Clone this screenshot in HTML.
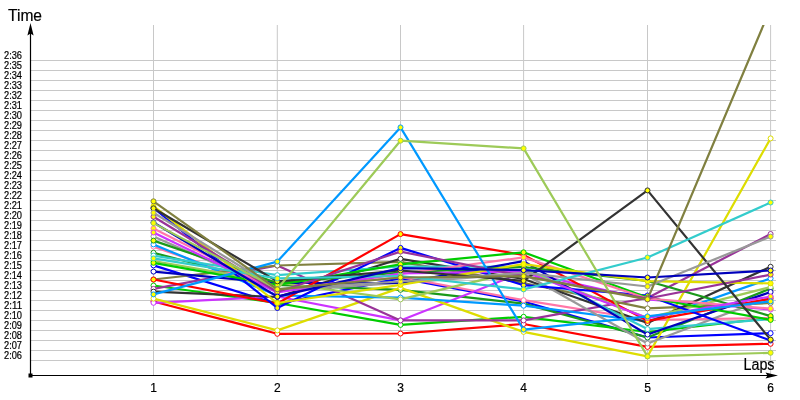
<!DOCTYPE html>
<html><head><meta charset="utf-8"><title>Lap chart</title>
<style>
html,body{margin:0;padding:0;background:#fff;}
svg{display:block}
text{font-family:"Liberation Sans","DejaVu Sans",sans-serif;fill:#000}
.yl{font-size:10px;stroke:#000;stroke-width:.2px}
.xl{font-size:12px;text-anchor:middle;stroke:#000;stroke-width:.2px}
.t{font-size:16px;stroke:#000;stroke-width:.2px}
</style></head><body>
<svg width="800" height="400" viewBox="0 0 800 400">
<rect width="800" height="400" fill="#fff"/>
<defs><clipPath id="cp"><rect x="31" y="25" width="760" height="350"/></clipPath></defs>
<path d="M31 60.5H776M31 70.5H776M31 80.5H776M31 90.5H776M31 100.5H776M31 110.5H776M31 120.5H776M31 130.5H776M31 140.5H776M31 150.5H776M31 160.5H776M31 170.5H776M31 180.5H776M31 190.5H776M31 200.5H776M31 210.5H776M31 220.5H776M31 230.5H776M31 240.5H776M31 250.5H776M31 260.5H776M31 270.5H776M31 280.5H776M31 290.5H776M31 300.5H776M31 310.5H776M31 320.5H776M31 330.5H776M31 340.5H776M31 350.5H776M31 360.5H776M153.5 25V375M277.3 25V375M400.5 25V375M523.6 25V375M647.5 25V375M770.6 25V375" stroke="#c8c8c8" stroke-width="1" fill="none"/>
<g clip-path="url(#cp)" fill="none" stroke-width="2.2" stroke-linejoin="round">
<polyline points="153.5,301.5 277.3,333.8 400.5,333.5 523.6,324.0 647.5,346.9 770.6,343.8" stroke="#ff0000"/>
<g stroke="#ff0000" stroke-width="1" fill="#ffffff"><circle cx="153.5" cy="301.5" r="2.5"/><circle cx="277.3" cy="333.8" r="2.5"/><circle cx="400.5" cy="333.5" r="2.5"/><circle cx="523.6" cy="324.0" r="2.5"/><circle cx="647.5" cy="346.9" r="2.5"/><circle cx="770.6" cy="343.8" r="2.5"/></g>
<polyline points="153.5,265.4 277.3,304.0 400.5,278.2 523.6,301.5 647.5,337.5 770.6,333.2" stroke="#0000ff"/>
<g stroke="#0000ff" stroke-width="1" fill="#ffffff"><circle cx="153.5" cy="265.4" r="2.5"/><circle cx="277.3" cy="304.0" r="2.5"/><circle cx="400.5" cy="278.2" r="2.5"/><circle cx="523.6" cy="301.5" r="2.5"/><circle cx="647.5" cy="337.5" r="2.5"/><circle cx="770.6" cy="333.2" r="2.5"/></g>
<polyline points="153.5,252.8 277.3,285.0 400.5,289.8 523.6,303.6 647.5,337.5 770.6,288.6" stroke="#1a991a"/>
<g stroke="#1a991a" stroke-width="1" fill="#ffffff"><circle cx="153.5" cy="252.8" r="2.5"/><circle cx="277.3" cy="285.0" r="2.5"/><circle cx="400.5" cy="289.8" r="2.5"/><circle cx="523.6" cy="303.6" r="2.5"/><circle cx="647.5" cy="337.5" r="2.5"/><circle cx="770.6" cy="288.6" r="2.5"/></g>
<polyline points="153.5,285.5 277.3,303.0 400.5,324.9 523.6,316.8 647.5,332.0 770.6,318.0" stroke="#00cc00"/>
<g stroke="#00cc00" stroke-width="1" fill="#ffffff"><circle cx="153.5" cy="285.5" r="2.5"/><circle cx="277.3" cy="303.0" r="2.5"/><circle cx="400.5" cy="324.9" r="2.5"/><circle cx="523.6" cy="316.8" r="2.5"/><circle cx="647.5" cy="332.0" r="2.5"/><circle cx="770.6" cy="318.0" r="2.5"/></g>
<polyline points="153.5,246.6 277.3,290.0 400.5,277.0 523.6,300.2 647.5,320.0 770.6,318.0" stroke="#ff77a8"/>
<g stroke="#ff77a8" stroke-width="1" fill="#ffffff"><circle cx="153.5" cy="246.6" r="2.5"/><circle cx="277.3" cy="290.0" r="2.5"/><circle cx="400.5" cy="277.0" r="2.5"/><circle cx="523.6" cy="300.2" r="2.5"/><circle cx="647.5" cy="320.0" r="2.5"/><circle cx="770.6" cy="318.0" r="2.5"/></g>
<polyline points="153.5,302.8 277.3,296.5 400.5,320.4 523.6,272.0 647.5,299.5 770.6,309.5" stroke="#cc33ff"/>
<g stroke="#cc33ff" stroke-width="1" fill="#ffffff"><circle cx="153.5" cy="302.8" r="2.5"/><circle cx="277.3" cy="296.5" r="2.5"/><circle cx="400.5" cy="320.4" r="2.5"/><circle cx="523.6" cy="272.0" r="2.5"/><circle cx="647.5" cy="299.5" r="2.5"/><circle cx="770.6" cy="309.5" r="2.5"/></g>
<polyline points="153.5,298.6 277.3,330.4 400.5,287.9 523.6,331.9 647.5,356.4 770.6,138.4" stroke="#dddd00"/>
<g stroke="#dddd00" stroke-width="1" fill="#ffffff"><circle cx="153.5" cy="298.6" r="2.5"/><circle cx="277.3" cy="330.4" r="2.5"/><circle cx="400.5" cy="287.9" r="2.5"/><circle cx="523.6" cy="331.9" r="2.5"/><circle cx="647.5" cy="356.4" r="2.5"/><circle cx="770.6" cy="138.4" r="2.5"/></g>
<polyline points="153.5,288.9 277.3,265.5 400.5,320.4 523.6,320.4 647.5,298.0 770.6,234.0" stroke="#993399"/>
<g stroke="#993399" stroke-width="1" fill="#ffffff"><circle cx="153.5" cy="288.9" r="2.5"/><circle cx="277.3" cy="265.5" r="2.5"/><circle cx="400.5" cy="320.4" r="2.5"/><circle cx="523.6" cy="320.4" r="2.5"/><circle cx="647.5" cy="298.0" r="2.5"/><circle cx="770.6" cy="234.0" r="2.5"/></g>
<polyline points="153.5,244.4 277.3,295.5 400.5,297.6 523.6,305.7 647.5,321.5 770.6,278.4" stroke="#0099ff"/>
<g stroke="#0099ff" stroke-width="1" fill="#ffffff"><circle cx="153.5" cy="244.4" r="2.5"/><circle cx="277.3" cy="295.5" r="2.5"/><circle cx="400.5" cy="297.6" r="2.5"/><circle cx="523.6" cy="305.7" r="2.5"/><circle cx="647.5" cy="321.5" r="2.5"/><circle cx="770.6" cy="278.4" r="2.5"/></g>
<polyline points="153.5,279.5 277.3,265.5 400.5,261.8 523.6,283.0 647.5,308.4 770.6,303.0" stroke="#808040"/>
<g stroke="#808040" stroke-width="1" fill="#ffffff"><circle cx="153.5" cy="279.5" r="2.5"/><circle cx="277.3" cy="265.5" r="2.5"/><circle cx="400.5" cy="261.8" r="2.5"/><circle cx="523.6" cy="283.0" r="2.5"/><circle cx="647.5" cy="308.4" r="2.5"/><circle cx="770.6" cy="303.0" r="2.5"/></g>
<polyline points="153.5,291.7 277.3,297.0 400.5,258.8 523.6,279.0 647.5,323.0 770.6,266.8" stroke="#333333"/>
<g stroke="#333333" stroke-width="1" fill="#ffffff"><circle cx="153.5" cy="291.7" r="2.5"/><circle cx="277.3" cy="297.0" r="2.5"/><circle cx="400.5" cy="258.8" r="2.5"/><circle cx="523.6" cy="279.0" r="2.5"/><circle cx="647.5" cy="323.0" r="2.5"/><circle cx="770.6" cy="266.8" r="2.5"/></g>
<polyline points="153.5,236.4 277.3,291.0 400.5,283.0 523.6,273.5 647.5,343.5 770.6,297.0" stroke="#999999"/>
<g stroke="#999999" stroke-width="1" fill="#ffffff"><circle cx="153.5" cy="236.4" r="2.5"/><circle cx="277.3" cy="291.0" r="2.5"/><circle cx="400.5" cy="283.0" r="2.5"/><circle cx="523.6" cy="273.5" r="2.5"/><circle cx="647.5" cy="343.5" r="2.5"/><circle cx="770.6" cy="297.0" r="2.5"/></g>
<polyline points="153.5,255.6 277.3,275.2 400.5,266.5 523.6,267.0 647.5,329.1 770.6,319.0" stroke="#33cccc"/>
<g stroke="#33cccc" stroke-width="1" fill="#ffffff"><circle cx="153.5" cy="255.6" r="2.5"/><circle cx="277.3" cy="275.2" r="2.5"/><circle cx="400.5" cy="266.5" r="2.5"/><circle cx="523.6" cy="267.0" r="2.5"/><circle cx="647.5" cy="329.1" r="2.5"/><circle cx="770.6" cy="319.0" r="2.5"/></g>
<polyline points="153.5,261.0 277.3,282.5 400.5,299.4 523.6,270.0 647.5,318.0 770.6,287.1" stroke="#9dca58"/>
<g stroke="#9dca58" stroke-width="1" fill="#ffffff"><circle cx="153.5" cy="261.0" r="2.5"/><circle cx="277.3" cy="282.5" r="2.5"/><circle cx="400.5" cy="299.4" r="2.5"/><circle cx="523.6" cy="270.0" r="2.5"/><circle cx="647.5" cy="318.0" r="2.5"/><circle cx="770.6" cy="287.1" r="2.5"/></g>
<polyline points="153.5,271.6 277.3,283.0 400.5,283.0 523.6,261.1 647.5,334.5 770.6,292.0" stroke="#0000bb"/>
<g stroke="#0000bb" stroke-width="1" fill="#ffffff"><circle cx="153.5" cy="271.6" r="2.5"/><circle cx="277.3" cy="283.0" r="2.5"/><circle cx="400.5" cy="283.0" r="2.5"/><circle cx="523.6" cy="261.1" r="2.5"/><circle cx="647.5" cy="334.5" r="2.5"/><circle cx="770.6" cy="292.0" r="2.5"/></g>
<polyline points="153.5,279.5 277.3,303.5 400.5,234.1 523.6,255.0 647.5,320.9 770.6,298.8" stroke="#ff0000"/>
<g stroke="#ff0000" stroke-width="1" fill="#ffff00"><circle cx="153.5" cy="279.5" r="2.5"/><circle cx="277.3" cy="303.5" r="2.5"/><circle cx="400.5" cy="234.1" r="2.5"/><circle cx="523.6" cy="255.0" r="2.5"/><circle cx="647.5" cy="320.9" r="2.5"/><circle cx="770.6" cy="298.8" r="2.5"/></g>
<polyline points="153.5,208.0 277.3,308.0 400.5,247.9 523.6,285.2 647.5,295.5 770.6,340.5" stroke="#0000ff"/>
<g stroke="#0000ff" stroke-width="1" fill="#ffff00"><circle cx="153.5" cy="208.0" r="2.5"/><circle cx="277.3" cy="308.0" r="2.5"/><circle cx="400.5" cy="247.9" r="2.5"/><circle cx="523.6" cy="285.2" r="2.5"/><circle cx="647.5" cy="295.5" r="2.5"/><circle cx="770.6" cy="340.5" r="2.5"/></g>
<polyline points="153.5,240.6 277.3,283.0 400.5,272.5 523.6,267.0 647.5,281.0 770.6,316.1" stroke="#1a991a"/>
<g stroke="#1a991a" stroke-width="1" fill="#ffff00"><circle cx="153.5" cy="240.6" r="2.5"/><circle cx="277.3" cy="283.0" r="2.5"/><circle cx="400.5" cy="272.5" r="2.5"/><circle cx="523.6" cy="267.0" r="2.5"/><circle cx="647.5" cy="281.0" r="2.5"/><circle cx="770.6" cy="316.1" r="2.5"/></g>
<polyline points="153.5,262.8 277.3,285.0 400.5,264.4 523.6,252.3 647.5,297.5 770.6,319.9" stroke="#00cc00"/>
<g stroke="#00cc00" stroke-width="1" fill="#ffff00"><circle cx="153.5" cy="262.8" r="2.5"/><circle cx="277.3" cy="285.0" r="2.5"/><circle cx="400.5" cy="264.4" r="2.5"/><circle cx="523.6" cy="252.3" r="2.5"/><circle cx="647.5" cy="297.5" r="2.5"/><circle cx="770.6" cy="319.9" r="2.5"/></g>
<polyline points="153.5,228.4 277.3,291.0 400.5,274.0 523.6,257.4 647.5,298.5 770.6,308.6" stroke="#ff77a8"/>
<g stroke="#ff77a8" stroke-width="1" fill="#ffff00"><circle cx="153.5" cy="228.4" r="2.5"/><circle cx="277.3" cy="291.0" r="2.5"/><circle cx="400.5" cy="274.0" r="2.5"/><circle cx="523.6" cy="257.4" r="2.5"/><circle cx="647.5" cy="298.5" r="2.5"/><circle cx="770.6" cy="308.6" r="2.5"/></g>
<polyline points="153.5,232.5 277.3,292.5 400.5,273.5 523.6,271.5 647.5,318.0 770.6,296.5" stroke="#cc33ff"/>
<g stroke="#cc33ff" stroke-width="1" fill="#ffff00"><circle cx="153.5" cy="232.5" r="2.5"/><circle cx="277.3" cy="292.5" r="2.5"/><circle cx="400.5" cy="273.5" r="2.5"/><circle cx="523.6" cy="271.5" r="2.5"/><circle cx="647.5" cy="318.0" r="2.5"/><circle cx="770.6" cy="296.5" r="2.5"/></g>
<polyline points="153.5,206.2 277.3,303.0 400.5,284.9 523.6,264.1 647.5,281.2 770.6,283.4" stroke="#dddd00"/>
<g stroke="#dddd00" stroke-width="1" fill="#ffff00"><circle cx="153.5" cy="206.2" r="2.5"/><circle cx="277.3" cy="303.0" r="2.5"/><circle cx="400.5" cy="284.9" r="2.5"/><circle cx="523.6" cy="264.1" r="2.5"/><circle cx="647.5" cy="281.2" r="2.5"/><circle cx="770.6" cy="283.4" r="2.5"/></g>
<polyline points="153.5,216.7 277.3,292.0 400.5,251.6 523.6,276.0 647.5,298.5 770.6,274.6" stroke="#993399"/>
<g stroke="#993399" stroke-width="1" fill="#ffff00"><circle cx="153.5" cy="216.7" r="2.5"/><circle cx="277.3" cy="292.0" r="2.5"/><circle cx="400.5" cy="251.6" r="2.5"/><circle cx="523.6" cy="276.0" r="2.5"/><circle cx="647.5" cy="298.5" r="2.5"/><circle cx="770.6" cy="274.6" r="2.5"/></g>
<polyline points="153.5,294.4 277.3,261.6 400.5,127.4 523.6,329.6 647.5,316.4 770.6,301.4" stroke="#0099ff"/>
<g stroke="#0099ff" stroke-width="1" fill="#ffff00"><circle cx="153.5" cy="294.4" r="2.5"/><circle cx="277.3" cy="261.6" r="2.5"/><circle cx="400.5" cy="127.4" r="2.5"/><circle cx="523.6" cy="329.6" r="2.5"/><circle cx="647.5" cy="316.4" r="2.5"/><circle cx="770.6" cy="301.4" r="2.5"/></g>
<polyline points="153.5,208.3 277.3,281.4 400.5,270.5 523.6,280.8 647.5,190.4 770.6,339.6" stroke="#333333"/>
<g stroke="#333333" stroke-width="1" fill="#ffff00"><circle cx="153.5" cy="208.3" r="2.5"/><circle cx="277.3" cy="281.4" r="2.5"/><circle cx="400.5" cy="270.5" r="2.5"/><circle cx="523.6" cy="280.8" r="2.5"/><circle cx="647.5" cy="190.4" r="2.5"/><circle cx="770.6" cy="339.6" r="2.5"/></g>
<polyline points="153.5,212.8 277.3,289.0 400.5,281.5 523.6,272.9 647.5,286.5 770.6,236.6" stroke="#999999"/>
<g stroke="#999999" stroke-width="1" fill="#ffff00"><circle cx="153.5" cy="212.8" r="2.5"/><circle cx="277.3" cy="289.0" r="2.5"/><circle cx="400.5" cy="281.5" r="2.5"/><circle cx="523.6" cy="272.9" r="2.5"/><circle cx="647.5" cy="286.5" r="2.5"/><circle cx="770.6" cy="236.6" r="2.5"/></g>
<polyline points="153.5,258.4 277.3,278.4 400.5,276.0 523.6,289.4 647.5,257.5 770.6,202.5" stroke="#33cccc"/>
<g stroke="#33cccc" stroke-width="1" fill="#ffff00"><circle cx="153.5" cy="258.4" r="2.5"/><circle cx="277.3" cy="278.4" r="2.5"/><circle cx="400.5" cy="276.0" r="2.5"/><circle cx="523.6" cy="289.4" r="2.5"/><circle cx="647.5" cy="257.5" r="2.5"/><circle cx="770.6" cy="202.5" r="2.5"/></g>
<polyline points="153.5,222.5 277.3,296.6 400.5,268.1 523.6,270.2 647.5,277.5 770.6,270.5" stroke="#0000bb"/>
<g stroke="#0000bb" stroke-width="1" fill="#ffff00"><circle cx="153.5" cy="222.5" r="2.5"/><circle cx="277.3" cy="296.6" r="2.5"/><circle cx="400.5" cy="268.1" r="2.5"/><circle cx="523.6" cy="270.2" r="2.5"/><circle cx="647.5" cy="277.5" r="2.5"/><circle cx="770.6" cy="270.5" r="2.5"/></g>
<polyline points="153.5,223.1 277.3,289.0 400.5,140.7 523.6,148.4 647.5,356.4 770.6,352.8" stroke="#9dca58"/>
<g stroke="#9dca58" stroke-width="1" fill="#ffff00"><circle cx="153.5" cy="223.1" r="2.5"/><circle cx="277.3" cy="289.0" r="2.5"/><circle cx="400.5" cy="140.7" r="2.5"/><circle cx="523.6" cy="148.4" r="2.5"/><circle cx="647.5" cy="356.4" r="2.5"/><circle cx="770.6" cy="352.8" r="2.5"/></g>
<polyline points="153.5,201.3 277.3,289.3 400.5,277.5 523.6,276.2 647.5,299.3 770.6,8.2" stroke="#808040"/>
<g stroke="#808040" stroke-width="1" fill="#ffff00"><circle cx="153.5" cy="201.3" r="2.5"/><circle cx="277.3" cy="289.3" r="2.5"/><circle cx="400.5" cy="277.5" r="2.5"/><circle cx="523.6" cy="276.2" r="2.5"/><circle cx="647.5" cy="299.3" r="2.5"/><circle cx="770.6" cy="8.2" r="2.5"/></g>
</g>
<path d="M30.5 376V30M30 375.5H770" stroke="#000" stroke-width="1.2" fill="none"/>
<rect x="28.5" y="373.5" width="4" height="4" fill="#000"/>
<path d="M30.5 23L33.6 35.5L30.5 33.5L27.4 35.5Z" fill="#000"/>
<path d="M778 375.5L765.5 378.6L767.5 375.5L765.5 372.4Z" fill="#000"/>
<text class="yl" x="4" y="59.0" textLength="18" lengthAdjust="spacingAndGlyphs">2:36</text>
<text class="yl" x="4" y="69.0" textLength="18" lengthAdjust="spacingAndGlyphs">2:35</text>
<text class="yl" x="4" y="79.0" textLength="18" lengthAdjust="spacingAndGlyphs">2:34</text>
<text class="yl" x="4" y="89.0" textLength="18" lengthAdjust="spacingAndGlyphs">2:33</text>
<text class="yl" x="4" y="99.0" textLength="18" lengthAdjust="spacingAndGlyphs">2:32</text>
<text class="yl" x="4" y="109.0" textLength="18" lengthAdjust="spacingAndGlyphs">2:31</text>
<text class="yl" x="4" y="119.0" textLength="18" lengthAdjust="spacingAndGlyphs">2:30</text>
<text class="yl" x="4" y="129.0" textLength="18" lengthAdjust="spacingAndGlyphs">2:29</text>
<text class="yl" x="4" y="139.0" textLength="18" lengthAdjust="spacingAndGlyphs">2:28</text>
<text class="yl" x="4" y="149.0" textLength="18" lengthAdjust="spacingAndGlyphs">2:27</text>
<text class="yl" x="4" y="159.0" textLength="18" lengthAdjust="spacingAndGlyphs">2:26</text>
<text class="yl" x="4" y="169.0" textLength="18" lengthAdjust="spacingAndGlyphs">2:25</text>
<text class="yl" x="4" y="179.0" textLength="18" lengthAdjust="spacingAndGlyphs">2:24</text>
<text class="yl" x="4" y="189.0" textLength="18" lengthAdjust="spacingAndGlyphs">2:23</text>
<text class="yl" x="4" y="199.0" textLength="18" lengthAdjust="spacingAndGlyphs">2:22</text>
<text class="yl" x="4" y="209.0" textLength="18" lengthAdjust="spacingAndGlyphs">2:21</text>
<text class="yl" x="4" y="219.0" textLength="18" lengthAdjust="spacingAndGlyphs">2:20</text>
<text class="yl" x="4" y="229.0" textLength="18" lengthAdjust="spacingAndGlyphs">2:19</text>
<text class="yl" x="4" y="239.0" textLength="18" lengthAdjust="spacingAndGlyphs">2:18</text>
<text class="yl" x="4" y="249.0" textLength="18" lengthAdjust="spacingAndGlyphs">2:17</text>
<text class="yl" x="4" y="259.0" textLength="18" lengthAdjust="spacingAndGlyphs">2:16</text>
<text class="yl" x="4" y="269.0" textLength="18" lengthAdjust="spacingAndGlyphs">2:15</text>
<text class="yl" x="4" y="279.0" textLength="18" lengthAdjust="spacingAndGlyphs">2:14</text>
<text class="yl" x="4" y="289.0" textLength="18" lengthAdjust="spacingAndGlyphs">2:13</text>
<text class="yl" x="4" y="299.0" textLength="18" lengthAdjust="spacingAndGlyphs">2:12</text>
<text class="yl" x="4" y="309.0" textLength="18" lengthAdjust="spacingAndGlyphs">2:11</text>
<text class="yl" x="4" y="319.0" textLength="18" lengthAdjust="spacingAndGlyphs">2:10</text>
<text class="yl" x="4" y="329.0" textLength="18" lengthAdjust="spacingAndGlyphs">2:09</text>
<text class="yl" x="4" y="339.0" textLength="18" lengthAdjust="spacingAndGlyphs">2:08</text>
<text class="yl" x="4" y="349.0" textLength="18" lengthAdjust="spacingAndGlyphs">2:07</text>
<text class="yl" x="4" y="359.0" textLength="18" lengthAdjust="spacingAndGlyphs">2:06</text>
<text class="xl" x="153.5" y="391.6">1</text>
<text class="xl" x="277.3" y="391.6">2</text>
<text class="xl" x="400.5" y="391.6">3</text>
<text class="xl" x="523.6" y="391.6">4</text>
<text class="xl" x="647.5" y="391.6">5</text>
<text class="xl" x="770.6" y="391.6">6</text>
<text class="t" x="8" y="21" textLength="34" lengthAdjust="spacingAndGlyphs">Time</text>
<text class="t" x="743.5" y="370" textLength="31" lengthAdjust="spacingAndGlyphs">Laps</text>
</svg></body></html>
